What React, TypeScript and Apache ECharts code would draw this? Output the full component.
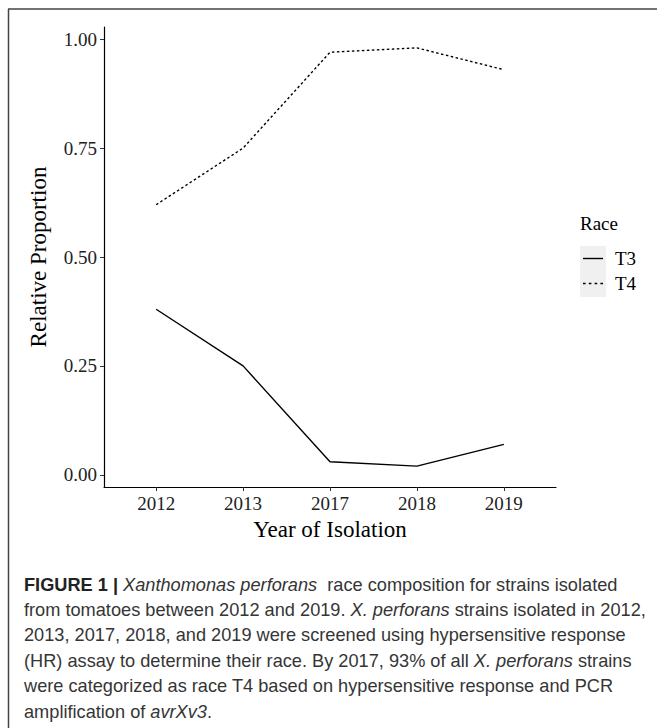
import React, { useEffect, useRef } from "react";
import * as echarts from "echarts";

const years = ["2012", "2013", "2017", "2018", "2019"];
const t3 = [0.38, 0.25, 0.03, 0.02, 0.07];
const t4 = [0.62, 0.75, 0.97, 0.98, 0.93];
const yTicks = [0, 0.25, 0.5, 0.75, 1.0];
const seriesNames = ["T3", "T4"];
const captionLines = [
  "{b|FIGURE 1 |} {i|Xanthomonas perforans}  race composition for strains isolated",
  "from tomatoes between 2012 and 2019. {i|X. perforans} strains isolated in 2012,",
  "2013, 2017, 2018, and 2019 were screened using hypersensitive response",
  "(HR) assay to determine their race. By 2017, 93% of all {i|X. perforans} strains",
  "were categorized as race T4 based on hypersensitive response and PCR",
  "amplification of {i|avrXv3}.",
];

const SERIF = "'Liberation Serif', 'Times New Roman', serif";
const SANS = "'Liberation Sans', Arial, sans-serif";
const CAP = 18.2;

const solidIcon = "path://M0,0h20v1.4h-20z";
const dashIcon = "path://M0,0h2.6v1.4h-2.6zM5.8,0h2.6v1.4h-2.6zM11.6,0h2.6v1.4h-2.6zM17.4,0h2.6v1.4h-2.6z";

export default function App() {
  const ref = useRef<HTMLDivElement>(null);
  useEffect(() => {
    if (!ref.current) return;
    const chart = echarts.init(ref.current, null, { renderer: "svg" });
    const idx = years.map((_, i) => i);
    const captionGraphics = captionLines.map((line, i) => ({
      type: "text",
      left: 24,
      top: 575.5 + i * 25.4,
      style: {
        text: line,
        font: `${CAP}px ${SANS}`,
        fill: "#353535",
        rich: {
          b: { fontWeight: "bold", fontSize: CAP, fontFamily: SANS, fill: "#222", color: "#222" },
          i: { fontStyle: "italic", fontSize: CAP, fontFamily: SANS, fill: "#353535", color: "#353535" },
        },
      },
    }));
    chart.setOption({
      animation: false,
      backgroundColor: "#fff",
      grid: { left: 104, right: 101, top: 27, bottom: 241, containLabel: false },
      xAxis: {
        type: "value",
        min: -0.6,
        max: 4.6,
        name: "Year of Isolation",
        nameLocation: "middle",
        nameGap: 21,
        nameTextStyle: { fontFamily: SERIF, fontSize: 23, color: "#000" },
        axisLine: { show: true, onZero: false, lineStyle: { color: "#000", width: 1.2 } },
        axisTick: { show: true, length: 4, customValues: idx, lineStyle: { color: "#333" } },
        axisLabel: {
          customValues: idx,
          formatter: (v: number) => years[Math.round(v)] ?? "",
          fontFamily: SERIF,
          fontSize: 19,
          color: "#222",
          margin: 7,
        },
        splitLine: { show: false },
      },
      yAxis: {
        type: "value",
        min: -0.028,
        max: 1.028,
        name: "Relative Proportion",
        nameLocation: "middle",
        nameGap: 54,
        nameTextStyle: { fontFamily: SERIF, fontSize: 23, color: "#000" },
        axisLine: { show: true, onZero: false, lineStyle: { color: "#000", width: 1.2 } },
        axisTick: { show: true, length: 4, customValues: yTicks, lineStyle: { color: "#333" } },
        axisLabel: {
          customValues: yTicks,
          formatter: (v: number) => v.toFixed(2),
          fontFamily: SERIF,
          fontSize: 19,
          color: "#222",
          margin: 7,
        },
        splitLine: { show: false },
      },
      legend: {
        orient: "vertical",
        left: 583,
        top: 246,
        itemWidth: 20,
        itemHeight: 1.4,
        itemGap: 0,
        padding: 0,
        data: [
          { name: seriesNames[0], icon: solidIcon, itemStyle: { color: "#000" } },
          { name: seriesNames[1], icon: dashIcon, itemStyle: { color: "#000" } },
        ],
        textStyle: { fontFamily: SERIF, fontSize: 19, lineHeight: 25, color: "#000", padding: [0, 0, 0, 7] },
      },
      graphic: [
        { type: "rect", shape: { x: 580, y: 246, width: 26, height: 51 }, style: { fill: "#f0f0f0" }, z: -1 },
        {
          type: "text",
          left: 580,
          top: 214,
          style: { text: "Race", font: `19px ${SERIF}`, fill: "#000" },
        },
        { type: "line", shape: { x1: 8, y1: 9, x2: 657, y2: 9 }, style: { stroke: "#444", lineWidth: 1.5 } },
        { type: "line", shape: { x1: 8.5, y1: 9, x2: 8.5, y2: 728 }, style: { stroke: "#444", lineWidth: 1.5 } },
        ...captionGraphics,
      ],
      series: [
        {
          name: seriesNames[0],
          type: "line",
          data: t3.map((v, i) => [i, v]),
          symbol: "none",
          lineStyle: { color: "#000", width: 1.4, type: "solid" },
          itemStyle: { color: "#000" },
        },
        {
          name: seriesNames[1],
          type: "line",
          data: t4.map((v, i) => [i, v]),
          symbol: "none",
          lineStyle: { color: "#000", width: 1.4, type: [2.5, 2.5] },
          itemStyle: { color: "#000" },
        },
      ],
    });
    return () => chart.dispose();
  }, []);
  return (
    <div
      ref={ref}
      style={{ position: "absolute", left: 0, top: 0, width: 657, height: 728 }}
    />
  );
}
